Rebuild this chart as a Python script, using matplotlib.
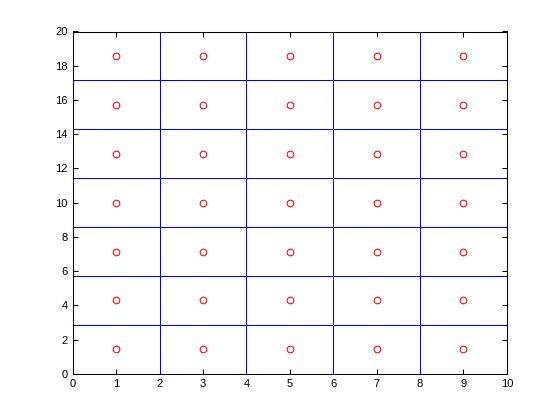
import numpy as np
import matplotlib
matplotlib.use('Agg')
import matplotlib.pyplot as plt

# grid cell edges and centres
x_edges = [2, 4, 6, 8]
y_edges = [2.857, 5.714, 8.571, 11.429, 14.286, 17.143]
x_centres = [1, 3, 5, 7, 9]
y_centres = [1.429, 4.286, 7.143, 10.0, 12.857, 15.714, 18.571]

plt.rcParams['font.family'] = ['Liberation Sans', 'DejaVu Sans']
fig = plt.figure(figsize=(5.6, 4.2), dpi=100)
ax = fig.add_axes([0.13, 0.11, 0.775, 0.815])

for xe in x_edges:
    ax.axvline(xe, color='#0000ff', lw=0.75)
for ye in y_edges:
    ax.axhline(ye, color='#0000ff', lw=0.75)

xx, yy = np.meshgrid(x_centres, y_centres)
ax.plot(xx.ravel(), yy.ravel(), 'o', mfc='none', mec='#ff0000', ms=4.8, mew=0.75)

ax.set_xlim(0, 10)
ax.set_ylim(0, 20)
ax.set_xticks(range(0, 11))
ax.set_yticks(range(0, 21, 2))
ax.tick_params(direction='in', top=True, right=True, labelsize=8, length=3.5, width=0.75)
for s in ax.spines.values():
    s.set_linewidth(0.75)

fig.savefig('out.png', dpi=100)
